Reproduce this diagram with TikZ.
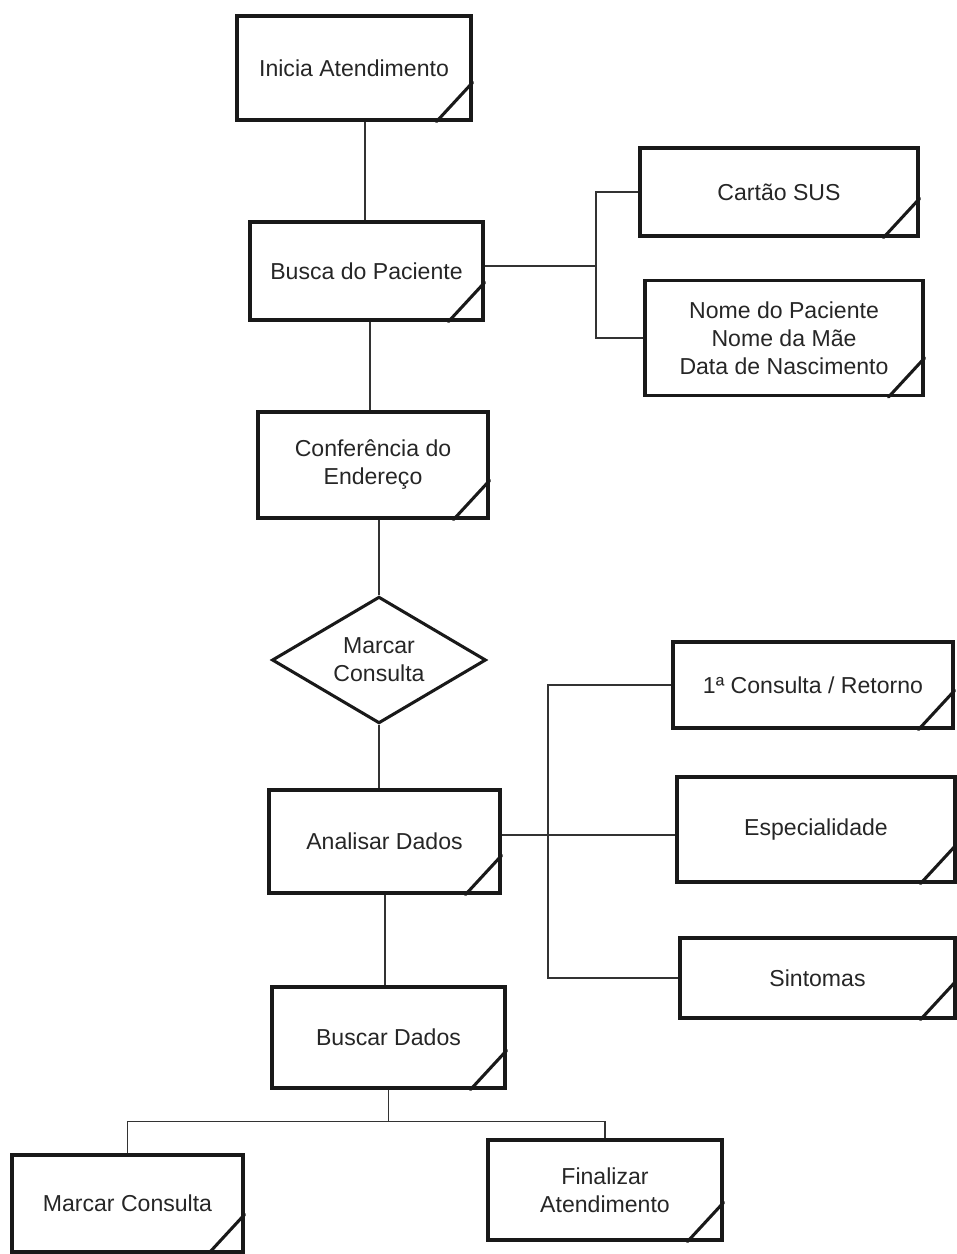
\documentclass[tikz,border=0pt]{standalone}
\usepackage{fontspec}
\setmainfont{Liberation Sans}
\usetikzlibrary{shapes.geometric,calc}
\begin{document}
\begin{tikzpicture}[x=0.75pt,y=-0.75pt,
  bx/.style={draw=black!90,line width=2.3pt,rectangle,inner sep=0pt,font=\fontsize{17.3}{21}\selectfont,text=black!85,align=center},
  dm/.style={draw=black!90,line width=2.3pt,diamond,inner sep=0pt,font=\fontsize{17.3}{21}\selectfont,text=black!85,align=center,minimum width=160.5pt,minimum height=95pt},
  ln/.style={draw=black!80,line width=1.1pt},
  mk/.style={draw=black!90,line width=2.3pt,line cap=round}]
\useasboundingbox (0,0) rectangle (957,1254);
\node[bx,minimum width=175.5pt,minimum height=78pt] (ini) at (354,68) {Inicia Atendimento};
\node[bx,minimum width=174.75pt,minimum height=73.5pt] (busca) at (366.5,271) {Busca do Paciente};
\node[bx,minimum width=208.5pt,minimum height=66pt] (sus) at (779,192) {Cartão SUS};
\node[bx,minimum width=208.5pt,minimum height=86.25pt] (nome) at (784,338) {Nome do Paciente\\Nome da Mãe\\Data de Nascimento};
\node[bx,minimum width=172.5pt,minimum height=79.5pt] (conf) at (373,465) {Conferência do\\Endereço};
\node[dm,aspect=1.68] (dec) at (379,660) {Marcar\\Consulta};
\node[bx,minimum width=173.25pt,minimum height=77.25pt] (anal) at (384.5,841.5) {Analisar Dados};
\node[bx,minimum width=210pt,minimum height=64.5pt] (cons1) at (813,685) {1ª Consulta / Retorno};
\node[bx,minimum width=208.5pt,minimum height=78.75pt] (esp) at (816,829.5) {Especialidade};
\node[bx,minimum width=206.25pt,minimum height=60pt] (sint) at (817.5,978) {Sintomas};
\node[bx,minimum width=174.75pt,minimum height=75.75pt] (buscar) at (388.5,1037.5) {Buscar Dados};
\node[bx,minimum width=173.25pt,minimum height=72.75pt] (marc) at (127.5,1203.5) {Marcar Consulta};
\node[bx,minimum width=175.5pt,minimum height=75pt] (fin) at (605,1190) {Finalizar\\Atendimento};
% corner marks
\foreach \n in {ini,busca,sus,nome,conf,anal,cons1,esp,sint,buscar,marc,fin}{
  \draw[mk] ($(\n.south east)+(-36,0)$) -- ($(\n.south east)+(0,-39)$);
}
% connector columns
\coordinate (x1) at (365,0);
\coordinate (x2) at (370,0);
\coordinate (x5) at (385,0);
\draw[ln] (ini.south -| x1) -- (busca.north -| x1);
\draw[ln] (busca.south -| x2) -- (conf.north -| x2);
\draw[ln] (conf.south -| dec.north) -- (dec.north);
\draw[ln] (dec.south) -- (anal.north -| dec.south);
\draw[ln] (anal.south -| x5) -- (buscar.north -| x5);
\coordinate (bj) at (596,266);
\draw[ln] (busca.east |- bj) -- (bj);
\draw[ln] (sus.west) -| (bj) |- (nome.west);
\coordinate (aj) at (548,835);
\draw[ln] (anal.east |- aj) -- (esp.west |- aj);
\draw[ln] (cons1.west) -| (aj) |- (sint.west);
\coordinate (bd) at ($(buscar.south)+(0,32)$);
\draw[ln] (buscar.south) -- (bd);
\draw[ln] (marc.north) |- (bd) -| (fin.north);
\end{tikzpicture}
\end{document}
